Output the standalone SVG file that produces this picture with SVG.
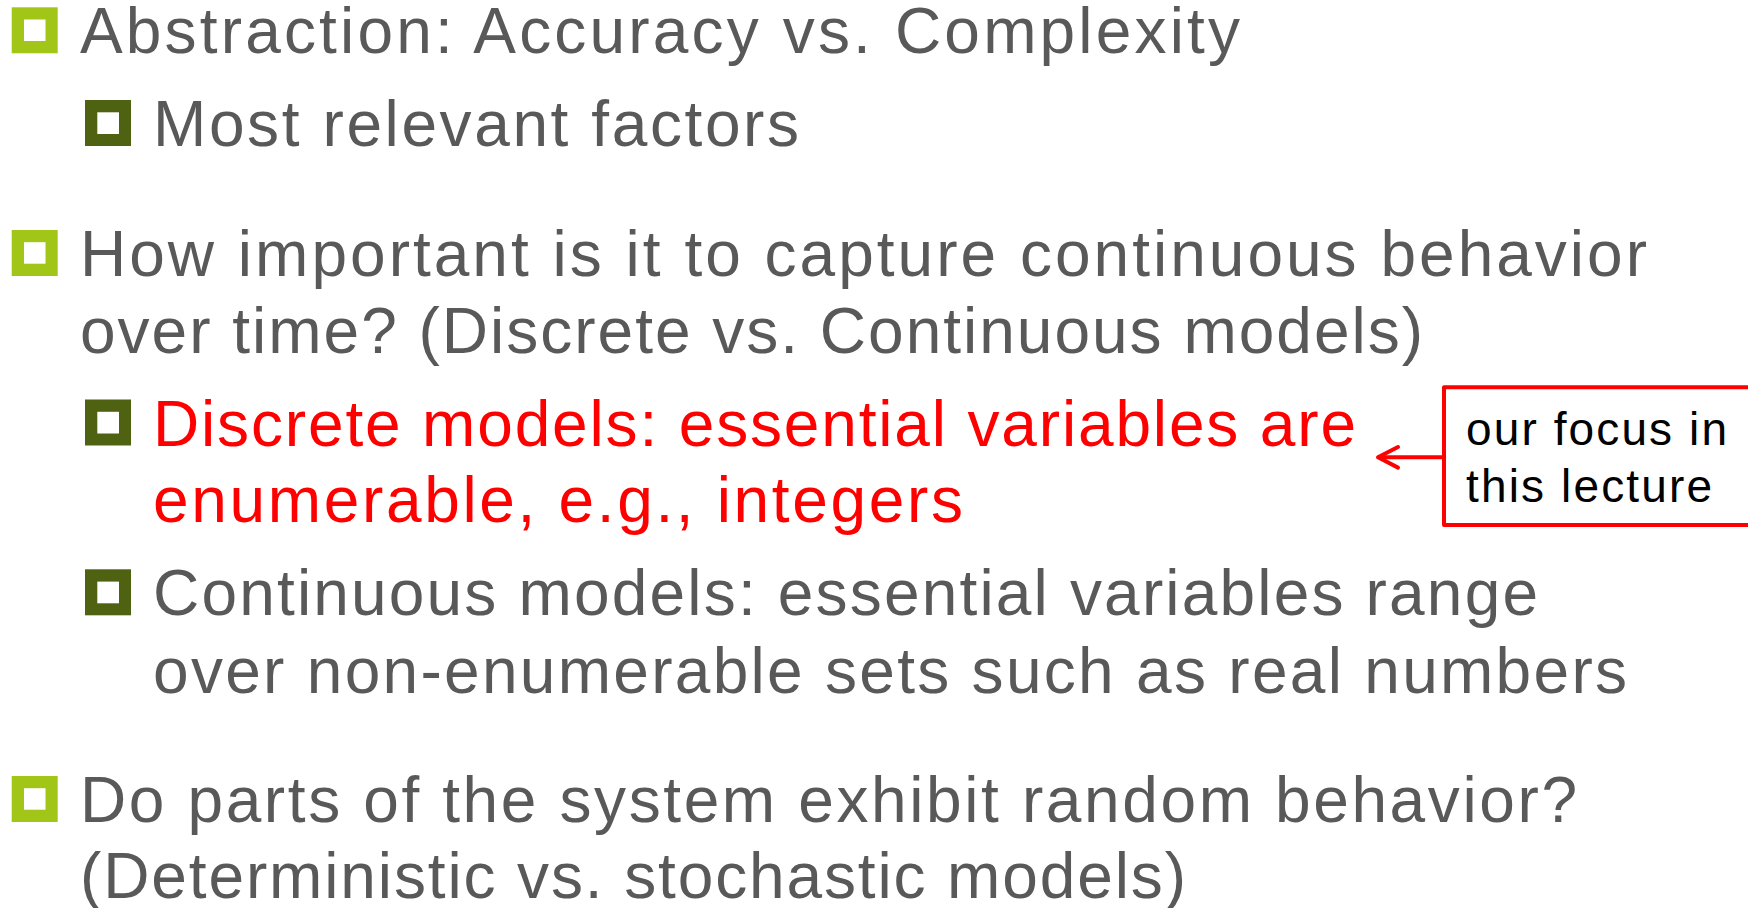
<svg xmlns="http://www.w3.org/2000/svg" width="1748" height="908" viewBox="0 0 1748 908">
<defs>
<style>
.t{font-family:"Liberation Sans","Noto Sans",Arial,sans-serif;font-size:64px;fill:#595959}
.red{fill:#FF0000}
.c{font-family:"Liberation Sans","Noto Sans",Arial,sans-serif;font-size:46px;fill:#000000}
.b1{fill:#A2C617}
.b2{fill:#4E6212}
.in{fill:#FFFFFF}
.conn{stroke:#FF0000;stroke-width:4;fill:none;stroke-linecap:round;stroke-linejoin:round}
</style>
</defs>
<rect width="1748" height="908" fill="#FFFFFF"/>
<g id="item1">
<rect class="b1" x="11.7" y="7.3" width="46" height="46"/>
<rect class="in" x="24" y="19.5" width="21.5" height="21.5"/>
<text class="t" x="80" y="53.3" textLength="1160">Abstraction: Accuracy vs. Complexity</text>
</g>
<g id="item1a">
<rect class="b2" x="85" y="100" width="46" height="46"/>
<rect class="in" x="97.3" y="112.3" width="21.7" height="21.7"/>
<text class="t" x="153" y="146" textLength="646">Most relevant factors</text>
</g>
<g id="item2">
<rect class="b1" x="11.7" y="230" width="46" height="46"/>
<rect class="in" x="24" y="242.2" width="21.5" height="21.5"/>
<text class="t" x="80" y="275.7" textLength="1567">How important is it to capture continuous behavior</text>
<text class="t" x="80" y="352.7" textLength="1343">over time? (Discrete vs. Continuous models)</text>
</g>
<g id="item2a">
<rect class="b2" x="85" y="399.5" width="46" height="46"/>
<rect class="in" x="97.3" y="411.8" width="21.7" height="21.7"/>
<text class="t red" x="153" y="445.7" textLength="1203">Discrete models: essential variables are</text>
<text class="t red" x="153" y="521.7" textLength="810">enumerable, e.g., integers</text>
</g>
<g id="item2b">
<rect class="b2" x="85" y="569.3" width="46" height="46"/>
<rect class="in" x="97.3" y="581.6" width="21.7" height="21.7"/>
<text class="t" x="153" y="615.3" textLength="1385">Continuous models: essential variables range</text>
<text class="t" x="153" y="692.7" textLength="1474">over non-enumerable sets such as real numbers</text>
</g>
<g id="item3">
<rect class="b1" x="11.7" y="776" width="46" height="46"/>
<rect class="in" x="24" y="788.2" width="21.5" height="21.5"/>
<text class="t" x="80" y="821.7" textLength="1497">Do parts of the system exhibit random behavior?</text>
<text class="t" x="80" y="898" textLength="1106">(Deterministic vs. stochastic models)</text>
</g>
<g id="callout">
<rect x="1444" y="387.3" width="340" height="137.7" fill="#FFFFFF" stroke="#FF0000" stroke-width="4" stroke-linejoin="round"/>
<text class="c" x="1466" y="445" textLength="261">our focus in</text>
<text class="c" x="1466" y="501.7" textLength="246">this lecture</text>
</g>
<g id="connectors">
<line class="conn" x1="1444" y1="457.3" x2="1379" y2="457.3"/>
<polyline class="conn" points="1398,447 1378,457.3 1398,467.6"/>
</g>
</svg>
